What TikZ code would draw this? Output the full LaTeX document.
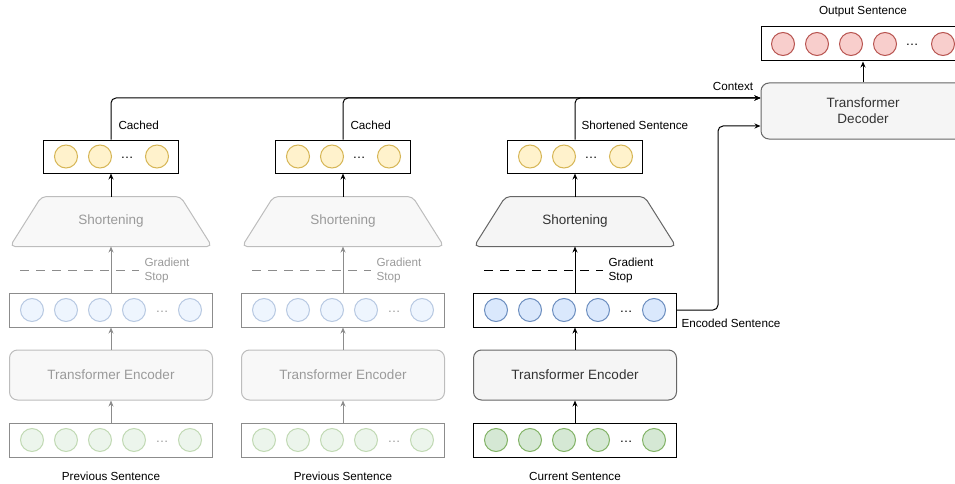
\documentclass[tikz,border=0pt]{standalone}
\usepackage{fontspec}
\setmainfont{Liberation Sans}
\usetikzlibrary{arrows.meta}
\definecolor{fadeline}{HTML}{8C8C8C}
\definecolor{fadeborder}{HTML}{BDBDBD}
\definecolor{fadefill}{HTML}{F8F8F8}
\definecolor{fadetext}{HTML}{9A9A9A}
\definecolor{encfill}{HTML}{F5F5F5}
\definecolor{encborder}{HTML}{666666}
\definecolor{enctext}{HTML}{333333}
\definecolor{yfill}{HTML}{FFF2CC}
\definecolor{yline}{HTML}{D6B656}
\definecolor{bfill}{HTML}{DAE8FC}
\definecolor{bline}{HTML}{6C8EBF}
\definecolor{gfill}{HTML}{D5E8D4}
\definecolor{gline}{HTML}{82B366}
\definecolor{rfill}{HTML}{F8CECC}
\definecolor{rline}{HTML}{B85450}
\begin{document}
\begin{tikzpicture}[x=1pt,y=-1pt,line width=1pt,
  arr/.style={-{Stealth[length=6pt,width=5pt]}},
  seq/.style={draw, rectangle, inner sep=0pt, minimum height=34pt},
  tok/.style={circle, draw, inner sep=0pt, minimum size=23pt},
  dotsnode/.style={anchor=base, inner sep=0pt, font=\fontsize{13}{15}\selectfont},
  blockbox/.style={draw, rectangle, rounded corners=8pt, inner sep=0pt, minimum width=203pt, minimum height=50pt, font=\fontsize{13.5}{16}\selectfont, align=center},
  lbl/.style={inner sep=0pt, font=\fontsize{11.7}{14}\selectfont, align=left},
  gstop/.style={dash pattern=on 9pt off 7pt}
  ]
\useasboundingbox (0,0) rectangle (955,484);
\clip (0,0) rectangle (955,484);

% decoder and output
\node[blockbox, draw=encborder, fill=encfill, text=enctext, minimum width=204pt, minimum height=56pt] (dec) at (863,111) {Transformer\\Decoder};
\node[seq, minimum width=204pt] (out) at (863,44) {};
\foreach \i/\xx in {1/783,2/817,3/851,4/885,5/943}
  \node[tok, fill=rfill, draw=rline] (out-\i) at (\xx,44) {};
\node[dotsnode] (out-d) at (912,46) {…};
\node[lbl] (outlbl) at (863,12) {Output Sentence};
\draw[arr] (dec.north) -- (out.south);
\node[lbl] (ctxlbl) at (733,86) {Context};

\foreach \c/\dx in {1/0,2/232,3/464}{
  \ifnum\c<3\relax
    \def\lc{fadeline}\def\bc{fadeborder}\def\fc{fadefill}\def\tc{fadetext}\def\op{0.45}\def\dc{fadetext}
  \else
    \def\lc{black}\def\bc{encborder}\def\fc{encfill}\def\tc{enctext}\def\op{1}\def\dc{black}
  \fi
  % input tokens
  \node[seq, draw=\lc, minimum width=203pt] (g\c) at (111+\dx,440) {};
  \foreach \i/\xx in {1/32,2/66,3/100,4/134,5/190}
    \node[tok, fill=gfill, draw=gline, opacity=\op] (g\c-\i) at (\xx+\dx,440) {};
  \node[dotsnode, text=\dc] (g\c-d) at (162+\dx,442) {…};
  % encoder
  \node[blockbox, draw=\bc, fill=\fc, text=\tc] (e\c) at (111+\dx,375) {Transformer Encoder};
  % encoded tokens
  \node[seq, draw=\lc, minimum width=203pt] (b\c) at (111+\dx,310) {};
  \foreach \i/\xx in {1/32,2/66,3/100,4/134,5/190}
    \node[tok, fill=bfill, draw=bline, opacity=\op] (b\c-\i) at (\xx+\dx,310) {};
  \node[dotsnode, text=\dc] (b\c-d) at (162+\dx,312) {…};
  % shortening
  \node[inner sep=0pt, minimum width=201pt, minimum height=49pt] (s\c) at (111+\dx,221.5) {};
  \draw[draw=\bc, fill=\fc, rounded corners=5pt] (s\c.south west) -- ([xshift=31.5pt]s\c.north west) -- ([xshift=-31.5pt]s\c.north east) -- (s\c.south east) -- cycle;
  \node[text=\tc, font=\fontsize{13.5}{16}\selectfont] (s\c-t) at (s\c.center) {Shortening};
  % shortened tokens
  \node[seq, minimum width=135pt, minimum height=33pt] (y\c) at (111+\dx,156.5) {};
  \foreach \i/\xx in {1/66,2/100,3/157}
    \node[tok, fill=yfill, draw=yline] (y\c-\i) at (\xx+\dx,156.5) {};
  \node[dotsnode] (y\c-d) at (127+\dx,158.5) {…};
  % gradient stop
  \coordinate (gs\c-a) at (20+\dx,270);
  \coordinate (gs\c-b) at (139+\dx,270);
  \draw[draw=\lc, gstop] (gs\c-a) -- (gs\c-b);
  \node[lbl, anchor=west, text=\dc] (gst\c) at (144+\dx,270) {Gradient\\Stop};
  % arrows
  \draw[arr, draw=\lc] (g\c.north) -- (e\c.south);
  \draw[arr, draw=\lc] (e\c.north) -- (b\c.south);
  \draw[arr, draw=\lc] (b\c.north) -- (s\c.south);
  \draw[arr] (s\c.north) -- (y\c.south);
  \draw[arr, rounded corners=5pt] (y\c.north) |- ([yshift=13pt]dec.west);
}

\node[lbl, anchor=west] (cached1) at (118,125) {Cached};
\node[lbl, anchor=west] (cached2) at (350,125) {Cached};
\node[lbl, anchor=west] (shortlbl) at (581,125) {Shortened Sentence};
\node[lbl] (prev1) at (111,476) {Previous Sentence};
\node[lbl] (prev2) at (343,476) {Previous Sentence};
\node[lbl] (cur) at (575,476) {Current Sentence};
\node[lbl, anchor=west] (enclbl) at (681,323) {Encoded Sentence};

\coordinate (encbend) at (718,310);
\draw[arr, rounded corners=5pt] (b3.east) -- (encbend) |- ([yshift=-15pt]dec.west);
\end{tikzpicture}
\end{document}
